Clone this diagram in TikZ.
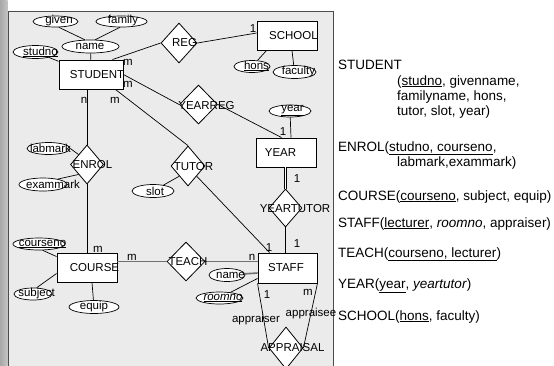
\documentclass[tikz,border=0pt]{standalone}
\usepackage{fontspec}
\setmainfont{Liberation Sans}
\usetikzlibrary{shapes.geometric,calc}
\definecolor{panel}{HTML}{EBEBEB}
\definecolor{frame}{HTML}{4D4D4D}
\definecolor{stripA}{HTML}{A8A8A8}
\definecolor{stripB}{HTML}{C4C4C4}
\definecolor{thickgray}{HTML}{707070}
\tikzset{
  ent/.style={draw,fill=white,line width=0.9pt,inner sep=0pt,rectangle},
  rel/.style={draw,fill=white,line width=0.8pt,inner sep=0pt,diamond},
  att/.style={draw,fill=white,line width=0.7pt,inner sep=0pt,ellipse},
  txt/.style={font=\fontsize{11.5}{13}\selectfont,inner sep=0pt},
  card/.style={font=\fontsize{11.5}{13}\selectfont,inner sep=0pt},
  conn/.style={line width=0.7pt},
  heavy/.style={line width=1.6pt,draw=thickgray},
  rtxt/.style={font=\fontsize{13.5}{15}\selectfont,inner sep=0pt,anchor=base west}
}
\begin{document}
\begin{tikzpicture}[x=1pt,y=-1pt]
\useasboundingbox (0,0) rectangle (554,365);
\clip (0,0) rectangle (554,365);
% background
\fill[white] (0,0) rectangle (554,365);
\shade[left color=stripA,right color=stripB] (0,0) rectangle (7.5,365);
\fill[panel] (8,11) rectangle (333,370);
\draw[frame,line width=0.9pt] (8,370) -- (8,11) -- (333,11) -- (333,370);

% entities
\node[ent,minimum width=64,minimum height=29] (student) at (91,74.5) {};
\node[ent,minimum width=60,minimum height=29] (school) at (287,35.5) {};
\node[ent,minimum width=60,minimum height=29] (year) at (286,152.5) {};
\node[ent,minimum width=60,minimum height=29] (course) at (87,267.5) {};
\node[ent,minimum width=59,minimum height=30] (staff) at (287.5,268) {};

% relationships
\node[rel,minimum width=36,minimum height=40] (reg) at (179,43) {};
\node[rel,minimum width=38,minimum height=39] (yearreg) at (198.5,104.5) {};
\node[rel,minimum width=33,minimum height=39] (enrol) at (87,164.5) {};
\node[rel,minimum width=34,minimum height=40] (tutor) at (188,166) {};
\node[rel,minimum width=33,minimum height=38] (yeartutor) at (285.5,208) {};
\node[rel,minimum width=38,minimum height=39] (teach) at (186,261.5) {};
\node[rel,minimum width=34,minimum height=42] (appraisal) at (286,348) {};

% attributes
\node[att,minimum width=45,minimum height=11] (given) at (55.5,21.5) {};
\node[att,minimum width=51,minimum height=11] (family) at (121.5,21.5) {};
\node[att,minimum width=57,minimum height=13] (name) at (90.5,46.5) {};
\node[att,minimum width=45,minimum height=13] (studno) at (35.5,52) {};
\node[att,minimum width=36,minimum height=12] (hons) at (252,66.5) {};
\node[att,minimum width=43,minimum height=13] (faculty) at (294.5,72) {};
\node[att,minimum width=42,minimum height=12] (yearatt) at (290,111) {};
\node[att,minimum width=43,minimum height=12] (labmark) at (48.5,148.5) {};
\node[att,minimum width=48,minimum height=13] (exammark) at (43,184.5) {};
\node[att,minimum width=42,minimum height=13] (slot) at (153,191) {};
\node[att,minimum width=52,minimum height=12] (courseno) at (39,244) {};
\node[att,minimum width=38,minimum height=12] (subject) at (33,294) {};
\node[att,minimum width=50,minimum height=13] (equip) at (94,307) {};
\node[att,minimum width=36,minimum height=13] (sname) at (227,275) {};
\node[att,minimum width=47,minimum height=12] (roomno) at (219.5,298) {};

% connectors
\draw[conn] (given.-60) -- (name.130);
\draw[conn] (family.-105) -- (name.55);
\draw[conn] (name) -- (student);
\draw[conn] (studno) -- (student);
\draw[conn] ($(student.north east)+(-11,0)$) -- (reg.west);
\draw[conn] (reg.east) -- ($(school.west)+(0,-2.5)$);
\draw[conn] ($(school.south west)+(10,0)$) -- (hons);
\draw[conn] ($(school.south)+(5,0)$) -- (faculty);
\draw[conn] (student.east) -- (yearreg.west);
\draw[conn] (yearreg.east) -- ($(year.north west)+(26,0)$);
\draw[conn] (yearatt) -- ($(year.north)+(5,0)$);
\draw[conn] (student.south -| enrol.north) -- (enrol.north);
\draw[conn] (enrol.south) -- (enrol.south |- course.north);
\draw[conn] (labmark.east) -- (enrol.north west);
\draw[conn] (exammark.20) -- (enrol.south west);
\draw[conn] ($(student.south east)+(-8,0)$) -- (tutor.north);
\draw[conn] (slot) -- (tutor.south west);
\draw[conn] (tutor.south east) -- ($(staff.north west)+(12,0)$);
\draw[conn,double,double distance=1.6pt] (year.south -| yeartutor.north) -- (yeartutor.north);
\draw[conn] (yeartutor.south) -- (yeartutor.south |- staff.north);
\draw[heavy] (teach.west -| course.east) -- (teach.west);
\draw[heavy] (teach.east) -- (teach.east -| staff.west);
\draw[conn] (courseno.-60) -- ($(course.north west)+(0,4)$);
\draw[conn] (subject.60) -- ($(course.west)+(0,6)$);
\draw[conn] ($(course.south)+(5,0)$) -- (equip);
\draw[heavy] (sname) -- ($(staff.west)+(0,5)$);
\draw[conn] (roomno) -- ($(staff.south west)+(0,-5)$);
\draw[conn] (staff.south west) -- (appraisal.west);
\draw[conn] (staff.south east) -- (appraisal.east);

% shape texts
\node[txt] (studentT) at (97,75) {STUDENT};
\node[txt] (schoolT) at (293.5,36) {SCHOOL};
\node[txt] (yearT) at (280.5,153) {YEAR};
\node[txt] (courseT) at (94.5,268) {COURSE};
\node[txt] (staffT) at (286,268) {STAFF};
\node[txt] (regT) at (184.5,43) {REG};
\node[txt] (yearregT) at (206.5,106) {YEARREG};
\node[txt] (enrolT) at (92.5,165) {ENROL};
\node[txt] (tutorT) at (193.5,167) {TUTOR};
\node[txt] (yeartutorT) at (295,209) {YEARTUTOR};
\node[txt] (teachT) at (188,262) {TEACH};
\node[txt] (appraisalT) at (292.5,348) {APPRAISAL};
\node[txt] (givenT) at (59,21) {given};
\node[txt] (familyT) at (123,21) {family};
\node[txt] (nameT) at (90,46) {name};
\node[txt] (studnoT) at (40.5,52) {\underline{studno}};
\node[txt] (honsT) at (256.5,66) {\underline{hons}};
\node[txt] (facultyT) at (298.5,72) {faculty};
\node[txt] (yearattT) at (292.5,111) {\underline{year}};
\node[txt] (labmarkT) at (50.5,148) {labmark};
\node[txt] (exammarkT) at (53,184) {exammark};
\node[txt] (slotT) at (155,191) {slot};
\node[txt] (coursenoT) at (42.5,244) {\underline{courseno}};
\node[txt] (subjectT) at (36.5,294) {subject};
\node[txt] (equipT) at (94,307) {equip};
\node[txt] (snameT) at (230.5,275) {name};
\node[txt] (roomnoT) at (223,298) {\underline{\textit{roomno}}};

% cardinalities and roles
\node[card] (c1) at (253,29) {1};
\node[card] (c2) at (128,62) {m};
\node[card] (c3) at (128,84) {m};
\node[card] (c4) at (84,100) {n};
\node[card] (c5) at (115,100) {m};
\node[card] (c6) at (283,132) {1};
\node[card] (c7) at (297,179) {1};
\node[card] (c8) at (98,249) {m};
\node[card] (c9) at (132,257) {m};
\node[card] (c10) at (252,257) {n};
\node[card] (c11) at (269,248) {1};
\node[card] (c12) at (297,244) {1};
\node[card] (c13) at (267,295) {1};
\node[card] (c14) at (308,292) {m};
\node[card] (r1) at (256,320) {appraiser};
\node[card] (r2) at (311,314) {appraisee};

% relational schema
\node[rtxt] (rs1) at (338,69) {STUDENT};
\node[rtxt] (rs2) at (397,85) {(\underline{studno}, givenname,};
\node[rtxt] (rs3) at (397,100) {familyname, hons,};
\node[rtxt] (rs4) at (397,115) {tutor, slot, year)};
\node[rtxt] (re1) at (338,151) {ENROL(\underline{studno, courseno},};
\node[rtxt] (re2) at (397,166) {labmark,exammark)};
\node[rtxt] (rc) at (338,200) {COURSE(\underline{courseno}, subject, equip)};
\node[rtxt] (rst) at (338,227) {STAFF(\underline{lecturer}, \textit{roomno}, appraiser)};
\node[rtxt] (rt) at (338,257) {TEACH(\underline{courseno, lecturer})};
\node[rtxt] (ry) at (338,288) {YEAR(\underline{year}, \textit{yeartutor})};
\node[rtxt] (rsc) at (338,320) {SCHOOL(\underline{hons}, faculty)};
\end{tikzpicture}
\end{document}
